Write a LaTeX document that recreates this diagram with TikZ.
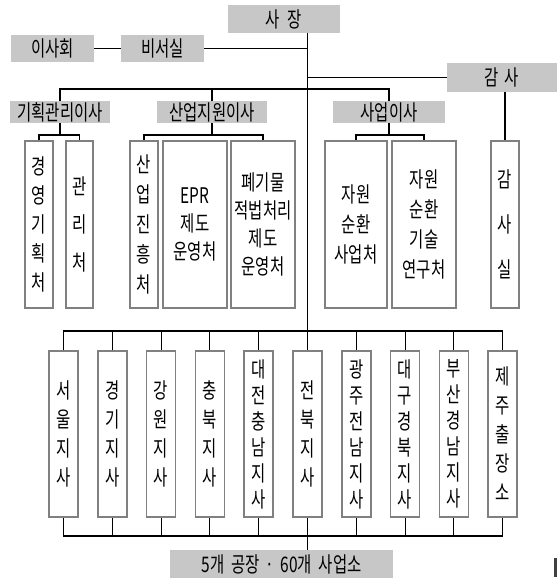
\documentclass[tikz,border=0pt]{standalone}
\usepackage{fontspec}
\usepackage{tikz}
\newfontfamily\krfont[FakeStretch=0.72]{Noto Sans CJK KR}
\definecolor{halftone}{gray}{0.78}
\definecolor{rim}{gray}{0.5}
\newcommand{\krsize}[1]{\krfont\fontsize{21.5}{#1}\selectfont}
\tikzset{
    head/.style={
        fill = halftone, inner sep = 0pt,
        minimum height = 28pt,
        font = \krsize{22}
    },
    unit/.style={
        draw = rim, line width = 1.5pt, fill = white,
        inner sep = 0pt, align = center,
        minimum height = 167pt
    },
    branch/.style={
        unit, minimum width = 29pt, minimum height = 166pt
    },
    link/.style = {line width = 1.1pt}
}

\begin{document}
\begin{tikzpicture}[x=1pt, y=-1pt]
    \useasboundingbox (0,0) rectangle (558,578);

    % Head office
    \node[head, minimum width=112pt] (ceo) at (284,19) {사\hspace{8pt}장};
    \node[head, minimum width=83pt, minimum height=27pt] (board) at (52.5,48.5) {이사회};
    \node[head, minimum width=83pt, minimum height=27pt] (secr) at (162.5,48.5) {비서실};
    \node[head, minimum width=110pt, minimum height=29pt] (audit) at (502,77.5) {감\hspace{6pt}사};

    % Directors
    \node[head, minimum width=100pt, minimum height=22pt] (dir1) at (60,112) {기획관리이사};
    \node[head, minimum width=110pt, minimum height=22pt] (dir2) at (212,112) {산업지원이사};
    \node[head, minimum width=112pt, minimum height=22pt] (dir3) at (389,112) {사업이사};

    % Departments
    \node[unit, minimum width=28pt, font=\krsize{29}] (plan) at (39,224.5) {경\\영\\기\\획\\처};
    \node[unit, minimum width=27pt, font=\krsize{38}] (admin) at (79.5,224.5) {관\\리\\처};
    \node[unit, minimum width=28pt, font=\krsize{30}] (promo) at (144,224.5) {산\\업\\진\\흥\\처};
    \node[unit, minimum width=64pt, font=\krsize{28}] (epr) at (195,224.5) {EPR\\제도\\운영처};
    \node[unit, minimum width=64pt, font=\krsize{28}] (waste) at (263,224.5) {폐기물\\적법처리\\제도\\운영처};
    \node[unit, minimum width=62pt, font=\krsize{30}] (recyc) at (356,224.5) {자원\\순환\\사업처};
    \node[unit, minimum width=64pt, font=\krsize{30}] (tech) at (424,224.5) {자원\\순환\\기술\\연구처};
    \node[unit, minimum width=28pt, font=\krsize{45}] (inspect) at (505,224.5) {감\\사\\실};

    % Branches
    \node[branch, font=\krsize{29}] (seoul) at (63.5,434) {서\\울\\지\\사};
    \node[branch, font=\krsize{29}] (gyeonggi) at (112.3,434) {경\\기\\지\\사};
    \node[branch, font=\krsize{29}] (gangwon) at (161.1,434) {강\\원\\지\\사};
    \node[branch, font=\krsize{29}] (chungbuk) at (209.9,434) {충\\북\\지\\사};
    \node[branch, font=\krsize{26}] (daejeon) at (258.7,434) {대\\전\\충\\남\\지\\사};
    \node[branch, font=\krsize{29}] (jeonbuk) at (307.5,434) {전\\북\\지\\사};
    \node[branch, font=\krsize{26}] (gwangju) at (356.3,434) {광\\주\\전\\남\\지\\사};
    \node[branch, font=\krsize{26}] (daegu) at (405.1,434) {대\\구\\경\\북\\지\\사};
    \node[branch, font=\krsize{26}] (busan) at (453.9,434) {부\\산\\경\\남\\지\\사};
    \node[branch, font=\krsize{29}] (jeju) at (502.7,434) {제\\주\\출\\장\\소};

    \node[head, minimum width=223pt, minimum height=28pt] (plants) at (281.5,564)
        {5개\hspace{7pt}공장\hspace{6pt}·\hspace{6pt}60개\hspace{7pt}사업소};

    % Bus levels
    \coordinate (bus1) at (0,89);
    \coordinate (brk) at (0,135);
    \coordinate (bus2) at (0,331);
    \coordinate (bus3) at (0,536);

    % Trunk
    \draw[link] (ceo.south -| jeonbuk.north) -- (jeonbuk.north);
    \draw[link] (board) -- (secr);
    \draw[link] (secr) -- (secr -| jeonbuk.north);
    \draw[link] (audit) -- (audit -| jeonbuk.north);
    \draw[link] (audit.south -| inspect) -- (inspect);

    % Directors
    \draw[link] (dir1) |- (bus1 -| dir3) -- (dir3);
    \draw[link] (dir2) -- (dir2 |- bus1);
    \draw[link] (dir1) -- (dir1 |- brk);
    \draw[link] (plan) |- (brk -| admin) -- (admin);
    \draw[link] (dir2) -- (dir2 |- brk);
    \draw[link] (promo) |- (brk -| waste) -- (waste);
    \draw[link] (dir3) -- (dir3 |- brk);
    \draw[link] (recyc) |- (brk -| tech) -- (tech);

    % Branches, top
    \draw[link] (seoul) |- (bus2 -| jeju) -- (jeju);
    \draw[link] (gyeonggi) -- (gyeonggi |- bus2);
    \draw[link] (gangwon) -- (gangwon |- bus2);
    \draw[link] (chungbuk) -- (chungbuk |- bus2);
    \draw[link] (daejeon) -- (daejeon |- bus2);
    \draw[link] (gwangju) -- (gwangju |- bus2);
    \draw[link] (daegu) -- (daegu |- bus2);
    \draw[link] (busan) -- (busan |- bus2);

    % Branches, bottom
    \draw[link] (seoul) |- (bus3 -| jeju) -- (jeju);
    \draw[link] (gyeonggi) -- (gyeonggi |- bus3);
    \draw[link] (gangwon) -- (gangwon |- bus3);
    \draw[link] (chungbuk) -- (chungbuk |- bus3);
    \draw[link] (daejeon) -- (daejeon |- bus3);
    \draw[link] (gwangju) -- (gwangju |- bus3);
    \draw[link] (daegu) -- (daegu |- bus3);
    \draw[link] (busan) -- (busan |- bus3);
    \draw[link] (jeonbuk.south) -- (jeonbuk.south |- plants.north);

    % Mark
    \fill[black!75] (554,558) rectangle (557,577);

\end{tikzpicture}
\end{document}
